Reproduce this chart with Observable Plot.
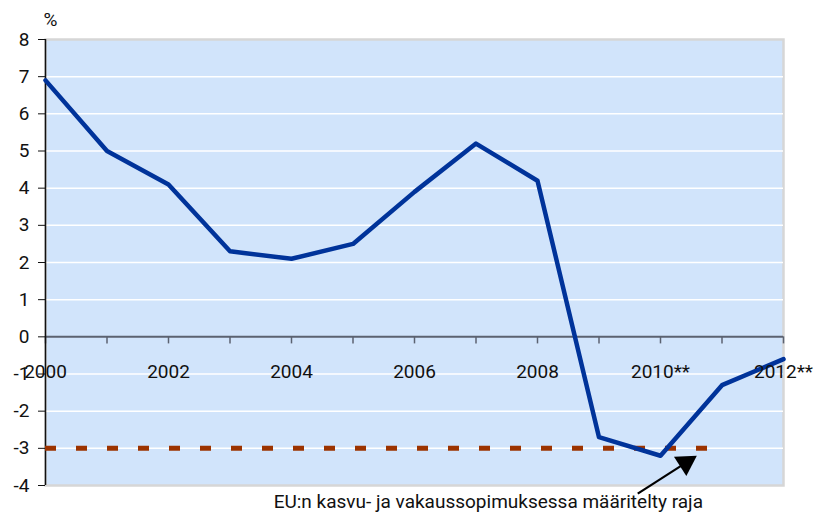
<!DOCTYPE html>
<html>
<head>
<meta charset="utf-8">
<script src="https://cdn.jsdelivr.net/npm/d3@7"></script>
<script src="https://cdn.jsdelivr.net/npm/@observablehq/plot@0.6"></script>
<style>
  html, body { margin: 0; padding: 0; background: #fff; }
  svg { font-family: Roboto, "Open Sans", sans-serif; }
</style>
</head>
<body>
<div id="chart"></div>
<script>
const years = [2000, 2001, 2002, 2003, 2004, 2005, 2006, 2007, 2008, 2009, 2010, 2011, 2012];
const values = [6.9, 5.0, 4.1, 2.3, 2.1, 2.5, 3.9, 5.2, 4.2, -2.7, -3.2, -1.3, -0.6];
const labelYears = [2000, 2002, 2004, 2006, 2008, 2010, 2012];
const labelTexts = ["2000", "2002", "2004", "2006", "2008", "2010**", "2012**"];
const yTicks = [-4, -3, -2, -1, 0, 1, 2, 3, 4, 5, 6, 7, 8];
const limitValue = -3;
const limitRange = [2000, 2011];
const annotationText = "EU:n kasvu- ja vakaussopimuksessa määritelty raja";
const arrowFrom = {x: 2009.63, y: -4.22};
const arrowHead = {x: 2010.41, y: -3.39};
const annotationPos = {x: 2007.2, y: -4.45};

const data = years.map((y, i) => ({year: y, value: values[i]}));
const labels = labelYears.map((y, i) => ({year: y, text: labelTexts[i]}));
const FONT = "Roboto, Open Sans, sans-serif";

const chart = Plot.plot({
  width: 814,
  height: 517,
  marginLeft: 45,
  marginRight: 31,
  marginTop: 39,
  marginBottom: 32,
  x: {domain: [2000, 2012], axis: null},
  y: {domain: [-4, 8], axis: null},
  style: {fontSize: "19px", fontFamily: FONT, color: "#111"},
  marks: [
    Plot.frame({fill: "#d1e4fb", stroke: "#d6d6d6", strokeWidth: 2.5}),
    Plot.ruleY(yTicks.filter(d => d !== 0 && d !== -4 && d !== 8), {stroke: "#ffffff", strokeWidth: 1.5}),
    Plot.ruleY([0], {stroke: "#5b6270", strokeWidth: 2}),
    Plot.ruleX(years, {x: d => d, y1: 0, y2: -0.19, stroke: "#5b6270", strokeWidth: 1.5}),
    Plot.ruleX([2000], {y1: -4, y2: 8, stroke: "#111", strokeWidth: 1.5}),
    Plot.axisY({ticks: yTicks, tickSize: 7, tickPadding: 9, tickFormat: d => String(d), fontSize: 19, stroke: "#111"}),
    Plot.ruleY([limitValue], {x1: limitRange[0], x2: limitRange[1], stroke: "#9c3300", strokeWidth: 5, strokeDasharray: "11,20"}),
    Plot.line(data, {x: "year", y: "value", stroke: "#00339a", strokeWidth: 4.5}),
    Plot.text(labels, {x: "year", y: 0, dy: 35, text: "text", fontSize: 19, fill: "#111"}),
    Plot.link([{...arrowFrom, x2: arrowHead.x, y2: arrowHead.y}], {x1: "x", y1: "y", x2: "x2", y2: "y2", stroke: "#000", strokeWidth: 2.2}),
    Plot.dot([arrowHead], {x: "x", y: "y", symbol: "triangle", r: 8.5, fill: "#000", stroke: "none", rotate: 57.3}),
    Plot.text([annotationText], {x: annotationPos.x, y: annotationPos.y, fontSize: 19, fill: "#111"}),
    Plot.text(["%"], {frameAnchor: "top-left", dx: -2, dy: -27, fontSize: 19, fill: "#111"})
  ]
});
document.getElementById("chart").appendChild(chart);
</script>
</body>
</html>
